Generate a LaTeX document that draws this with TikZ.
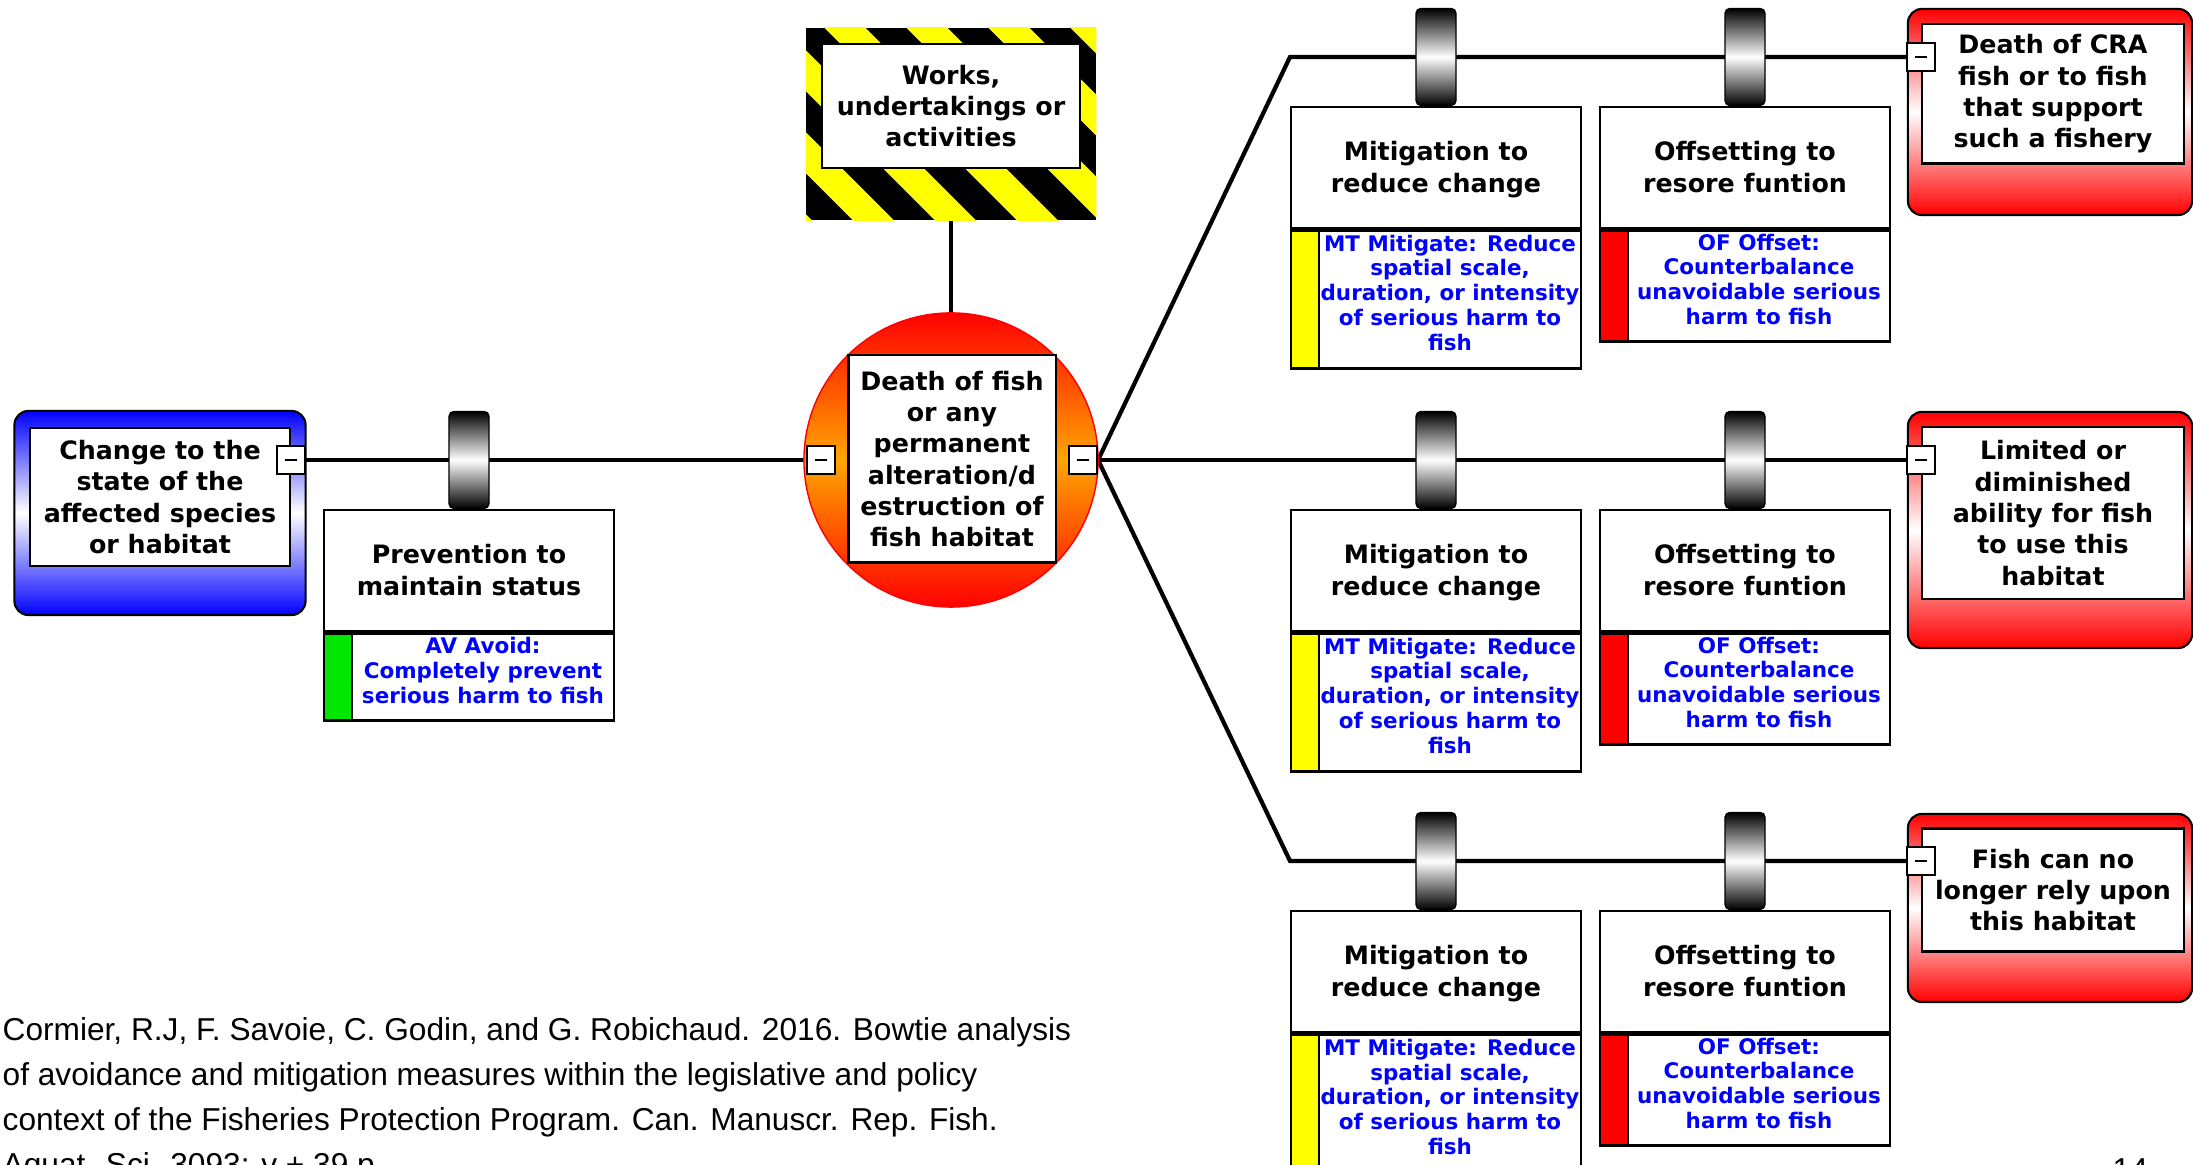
\documentclass[tikz,border=0pt]{standalone}
\usepackage{fontspec}
\usetikzlibrary{positioning,backgrounds}

\newfontfamily\boxfont{DejaVu Sans}
\newfontfamily\citefont{Liberation Sans}

\definecolor{causeblue}{RGB}{0,0,255}
\definecolor{conred}{RGB}{255,0,0}
\definecolor{toporange}{RGB}{255,165,0}
\definecolor{hazyellow}{RGB}{255,255,0}
\definecolor{avgreen}{RGB}{0,230,0}
\definecolor{mtyellow}{RGB}{255,255,0}
\definecolor{ofred}{RGB}{255,0,0}

\begin{document}
\begin{tikzpicture}[
x=0.01cm, y=-0.01cm,
link/.style={line width=1.2pt}
]

\useasboundingbox (0,0) rectangle (2193,1165);
\clip (0,0) rectangle (2193,1165);

% =====================================================
% Styles
% =====================================================

\tikzstyle{textbox} =
[rectangle, fill=white, draw=black, semithick,
align=center, inner sep=0pt,
font={\boxfont\bfseries\fontsize{7.2}{8.9}\selectfont}]

\tikzstyle{cause} =
[rectangle, rounded corners=0.14cm, draw=black, semithick,
top color=causeblue, bottom color=causeblue, middle color=white,
minimum width=2.91cm, minimum height=2.04cm]

\tikzstyle{conseq} =
[rectangle, rounded corners=0.14cm, draw=black, semithick,
top color=conred, bottom color=conred, middle color=white,
minimum width=2.84cm]

\tikzstyle{collapse} =
[rectangle, fill=white, draw=black, semithick,
minimum size=0.28cm, inner sep=0pt]

\tikzstyle{tab} =
[rectangle, rounded corners=0.05cm, draw=black, thin,
top color=black, bottom color=black, middle color=white,
minimum width=0.4cm, minimum height=0.97cm, inner sep=0pt]

\tikzstyle{bartitle} =
[textbox, minimum width=2.9cm, minimum height=1.21cm,
text height=15pt, text depth=1.2pt]

\tikzstyle{barnote} =
[rectangle, fill=white, draw=black, semithick,
align=center, inner sep=0pt, text=blue, text depth=3.8pt,
font={\boxfont\bfseries\fontsize{6.1}{7.1}\selectfont},
minimum width=2.62cm]

\tikzstyle{rating} =
[rectangle, draw=black, semithick,
minimum width=0.28cm, inner sep=0pt]

\tikzstyle{cite} =
[align=left, inner sep=0pt,
font={\citefont\fontsize{9}{12.8}\selectfont}]

% =====================================================
% Hazard and top event
% =====================================================

\node (hazard) [rectangle, fill=black, minimum width=2.89cm, minimum height=1.91cm]
at (951,124) {};

\begin{scope}
\clip (hazard.north west) rectangle (hazard.south east);
\foreach \c in {571,653,...,1063}
  \draw [hazyellow, line width=0.29cm] (\c,0) -- ++(260,260);
\end{scope}

\node (hazardtxt) [textbox, minimum width=2.58cm, minimum height=1.24cm]
at (951,106) {Works,\\undertakings or\\activities};

\node (top) [circle, draw=conred, top color=conred, bottom color=conred,
middle color=toporange, minimum size=2.94cm] at (951,460) {};

\node (toptxt) [textbox, minimum size=2.07cm]
at (952,459) {Death of fish\\or any\\permanent\\alteration/d\\estruction of\\fish habitat};

\node (topminL) [collapse] at (821,460) {\rule{3.4pt}{0.5pt}};
\node (topminR) [collapse] at (1083,460) {\rule{3.4pt}{0.5pt}};

% =====================================================
% Cause and prevention barrier
% =====================================================

\node (cause) [cause] at (160,513) {};

\node (causetxt) [textbox, minimum width=2.59cm, minimum height=1.38cm]
at (160,497) {Change to the\\state of the\\affected species\\or habitat};

\node (causemin) [collapse] at (291,460) {\rule{3.4pt}{0.5pt}};

\node (tabav) [tab] at (469,460) {};
\node (avtitle) [bartitle, below=0pt of tabav] {Prevention to\\maintain status};
\node (avnote) [barnote, minimum height=0.87cm, anchor=north east]
at (avtitle.south east) {AV Avoid:\\Completely prevent\\serious harm to fish};
\node (avbar) [rating, fill=avgreen, minimum height=0.87cm, anchor=north west]
at (avtitle.south west) {};

% =====================================================
% Row 1
% =====================================================

\node (tabmt1) [tab] at (1436,57) {};
\node (mt1title) [bartitle, below=0pt of tabmt1] {Mitigation to\\reduce change};
\node (mt1note) [barnote, minimum height=1.38cm, anchor=north east]
at (mt1title.south east) {MT Mitigate: Reduce\\spatial scale,\\duration, or intensity\\of serious harm to\\fish};
\node (mt1bar) [rating, fill=mtyellow, minimum height=1.38cm, anchor=north west]
at (mt1title.south west) {};

\node (tabof1) [tab] at (1745,57) {};
\node (of1title) [bartitle, below=0pt of tabof1] {Offsetting to\\resore funtion};
\node (of1note) [barnote, minimum height=1.11cm, anchor=north east]
at (of1title.south east) {OF Offset:\\Counterbalance\\unavoidable serious\\harm to fish};
\node (of1bar) [rating, fill=ofred, minimum height=1.11cm, anchor=north west]
at (of1title.south west) {};

\node (cons1) [conseq, minimum height=2.06cm] at (2050,112) {};
\node (cons1txt) [textbox, minimum width=2.61cm, minimum height=1.39cm]
at (2053,94) {Death of CRA\\fish or to fish\\that support\\such a fishery};
\node (cons1min) [collapse] at (1921,57) {\rule{3.4pt}{0.5pt}};

% =====================================================
% Row 2
% =====================================================

\node (tabmt2) [tab] at (1436,460) {};
\node (mt2title) [bartitle, below=0pt of tabmt2] {Mitigation to\\reduce change};
\node (mt2note) [barnote, minimum height=1.38cm, anchor=north east]
at (mt2title.south east) {MT Mitigate: Reduce\\spatial scale,\\duration, or intensity\\of serious harm to\\fish};
\node (mt2bar) [rating, fill=mtyellow, minimum height=1.38cm, anchor=north west]
at (mt2title.south west) {};

\node (tabof2) [tab] at (1745,460) {};
\node (of2title) [bartitle, below=0pt of tabof2] {Offsetting to\\resore funtion};
\node (of2note) [barnote, minimum height=1.11cm, anchor=north east]
at (of2title.south east) {OF Offset:\\Counterbalance\\unavoidable serious\\harm to fish};
\node (of2bar) [rating, fill=ofred, minimum height=1.11cm, anchor=north west]
at (of2title.south west) {};

\node (cons2) [conseq, minimum height=2.36cm] at (2050,530) {};
\node (cons2txt) [textbox, minimum width=2.61cm, minimum height=1.72cm]
at (2053,513) {Limited or\\diminished\\ability for fish\\to use this\\habitat};
\node (cons2min) [collapse] at (1921,460) {\rule{3.4pt}{0.5pt}};

% =====================================================
% Row 3
% =====================================================

\node (tabmt3) [tab] at (1436,861) {};
\node (mt3title) [bartitle, below=0pt of tabmt3] {Mitigation to\\reduce change};
\node (mt3note) [barnote, minimum height=1.38cm, anchor=north east]
at (mt3title.south east) {MT Mitigate: Reduce\\spatial scale,\\duration, or intensity\\of serious harm to\\fish};
\node (mt3bar) [rating, fill=mtyellow, minimum height=1.38cm, anchor=north west]
at (mt3title.south west) {};

\node (tabof3) [tab] at (1745,861) {};
\node (of3title) [bartitle, below=0pt of tabof3] {Offsetting to\\resore funtion};
\node (of3note) [barnote, minimum height=1.11cm, anchor=north east]
at (of3title.south east) {OF Offset:\\Counterbalance\\unavoidable serious\\harm to fish};
\node (of3bar) [rating, fill=ofred, minimum height=1.11cm, anchor=north west]
at (of3title.south west) {};

\node (cons3) [conseq, minimum height=1.88cm] at (2050,908) {};
\node (cons3txt) [textbox, minimum width=2.61cm, minimum height=1.23cm]
at (2053,890) {Fish can no\\longer rely upon\\this habitat};
\node (cons3min) [collapse] at (1921,861) {\rule{3.4pt}{0.5pt}};

% =====================================================
% Citation
% =====================================================

\node (cite) [cite, anchor=north west] at (2,1017)
{Cormier, R.J, F. Savoie, C. Godin, and G. Robichaud. 2016. Bowtie analysis\\
of avoidance and mitigation measures within the legislative and policy\\
context of the Fisheries Protection Program. Can. Manuscr. Rep. Fish.\\
Aquat. Sci. 3093: v + 39 p.};

\node (page) [cite, anchor=north west] at (2112,1158) {14};

% =====================================================
% Lines
% =====================================================

\coordinate (bend1) at (1290,57);
\coordinate (bend3) at (1290,861);

\begin{scope}[on background layer]
\draw [link] (causemin.east) -- (topminL.west);
\draw [link] (hazard.south) -- (top.north);
\draw [link] (topminR.east) -- (bend1) -- (cons1min.west);
\draw [link] (topminR.east) -- (cons2min.west);
\draw [link] (topminR.east) -- (bend3) -- (cons3min.west);
\end{scope}

\end{tikzpicture}
\end{document}
